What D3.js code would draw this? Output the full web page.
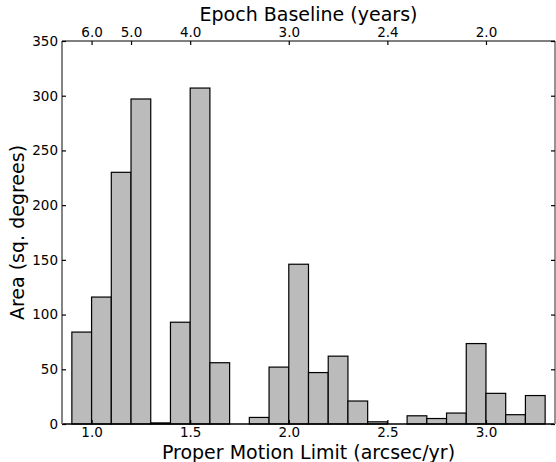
<!DOCTYPE html>
<html><head><meta charset="utf-8">
<script src="https://cdn.jsdelivr.net/npm/d3@7"></script>
<style>body{margin:0;background:#fff}svg{display:block}text{font-family:"DejaVu Sans",sans-serif}</style>
</head><body><svg id="c" width="556" height="462"></svg>
<script>
const binStarts = [0.9,1.0,1.1,1.2,1.3,1.4,1.5,1.6,1.7,1.8,1.9,2.0,2.1,2.2,2.3,2.4,2.5,2.6,2.7,2.8,2.9,3.0,3.1,3.2];
const areas = [84,116,230,297,1,93,307,56,0,6,52,146,47,62,21,2,0,7.5,5,10,73.5,28,8.5,26];
const binWidth = 0.1;
const xTicks = [1.0,1.5,2.0,2.5,3.0];
const yTicks = [0,50,100,150,200,250,300,350];
const epochTicks = [6.0,5.0,4.0,3.0,2.4,2.0];

const svg = d3.select("#c");
const L=62,R=555,T=41,B=424;
const x = d3.scaleLinear().domain([0.85,3.35]).range([L,R]);
const y = d3.scaleLinear().domain([0,350]).range([B,T]);

svg.append("g").selectAll("rect").data(binStarts).join("rect")
  .attr("x",(d)=>x(d)).attr("width",(d)=>x(d+binWidth)-x(d))
  .attr("y",(d,i)=>y(areas[i])).attr("height",(d,i)=>y(0)-y(areas[i]))
  .attr("fill","#bbbbbb").attr("stroke","#000").attr("stroke-width",1.2);

// spines
svg.append("line").attr("x1",L).attr("x2",R).attr("y1",T).attr("y2",T).attr("stroke","#000").attr("stroke-width",1.2);
svg.append("line").attr("x1",L).attr("x2",R).attr("y1",B).attr("y2",B).attr("stroke","#000").attr("stroke-width",1.5);
svg.append("line").attr("x1",L).attr("x2",L).attr("y1",T).attr("y2",B).attr("stroke","#777").attr("stroke-width",1.8);
svg.append("line").attr("x1",R).attr("x2",R).attr("y1",T).attr("y2",B).attr("stroke","#888").attr("stroke-width",1.8);

// y axis left
const yl = svg.append("g").attr("transform",`translate(${L},0)`)
  .call(d3.axisLeft(y).tickValues(yTicks).tickFormat(d3.format("d")).tickSize(-4).tickPadding(4));
const yr = svg.append("g").attr("transform",`translate(${R},0)`)
  .call(d3.axisRight(y).tickValues(yTicks).tickFormat("").tickSize(-4));
// x bottom
const xb = svg.append("g").attr("transform",`translate(0,${B})`)
  .call(d3.axisBottom(x).tickValues(xTicks).tickFormat(d3.format(".1f")).tickSize(-4).tickPadding(3));
// x top (epoch = 6 / PM)
const xt = svg.append("g").attr("transform",`translate(0,${T})`)
  .call(d3.axisTop(x).tickValues(epochTicks.map(e=>6/e)).tickFormat((d,i)=>epochTicks[i].toFixed(1)).tickSize(-4).tickPadding(4));
[yl,yr,xb,xt].forEach(g=>{
  g.select(".domain").remove();
  g.selectAll(".tick line").attr("stroke","#000").attr("stroke-width",1.2);
  g.selectAll(".tick text").attr("font-size",13.5).attr("fill","#000").attr("font-family","DejaVu Sans");
});

svg.append("text").attr("x",(L+R)/2).attr("y",459).attr("text-anchor","middle")
  .attr("font-size",19).text("Proper Motion Limit (arcsec/yr)");
svg.append("text").attr("x",(L+R)/2).attr("y",21).attr("text-anchor","middle")
  .attr("font-size",19).text("Epoch Baseline (years)");
svg.append("text").attr("transform",`translate(24,${(T+B)/2}) rotate(-90)`).attr("text-anchor","middle")
  .attr("font-size",19).text("Area (sq. degrees)");
</script></body></html>
